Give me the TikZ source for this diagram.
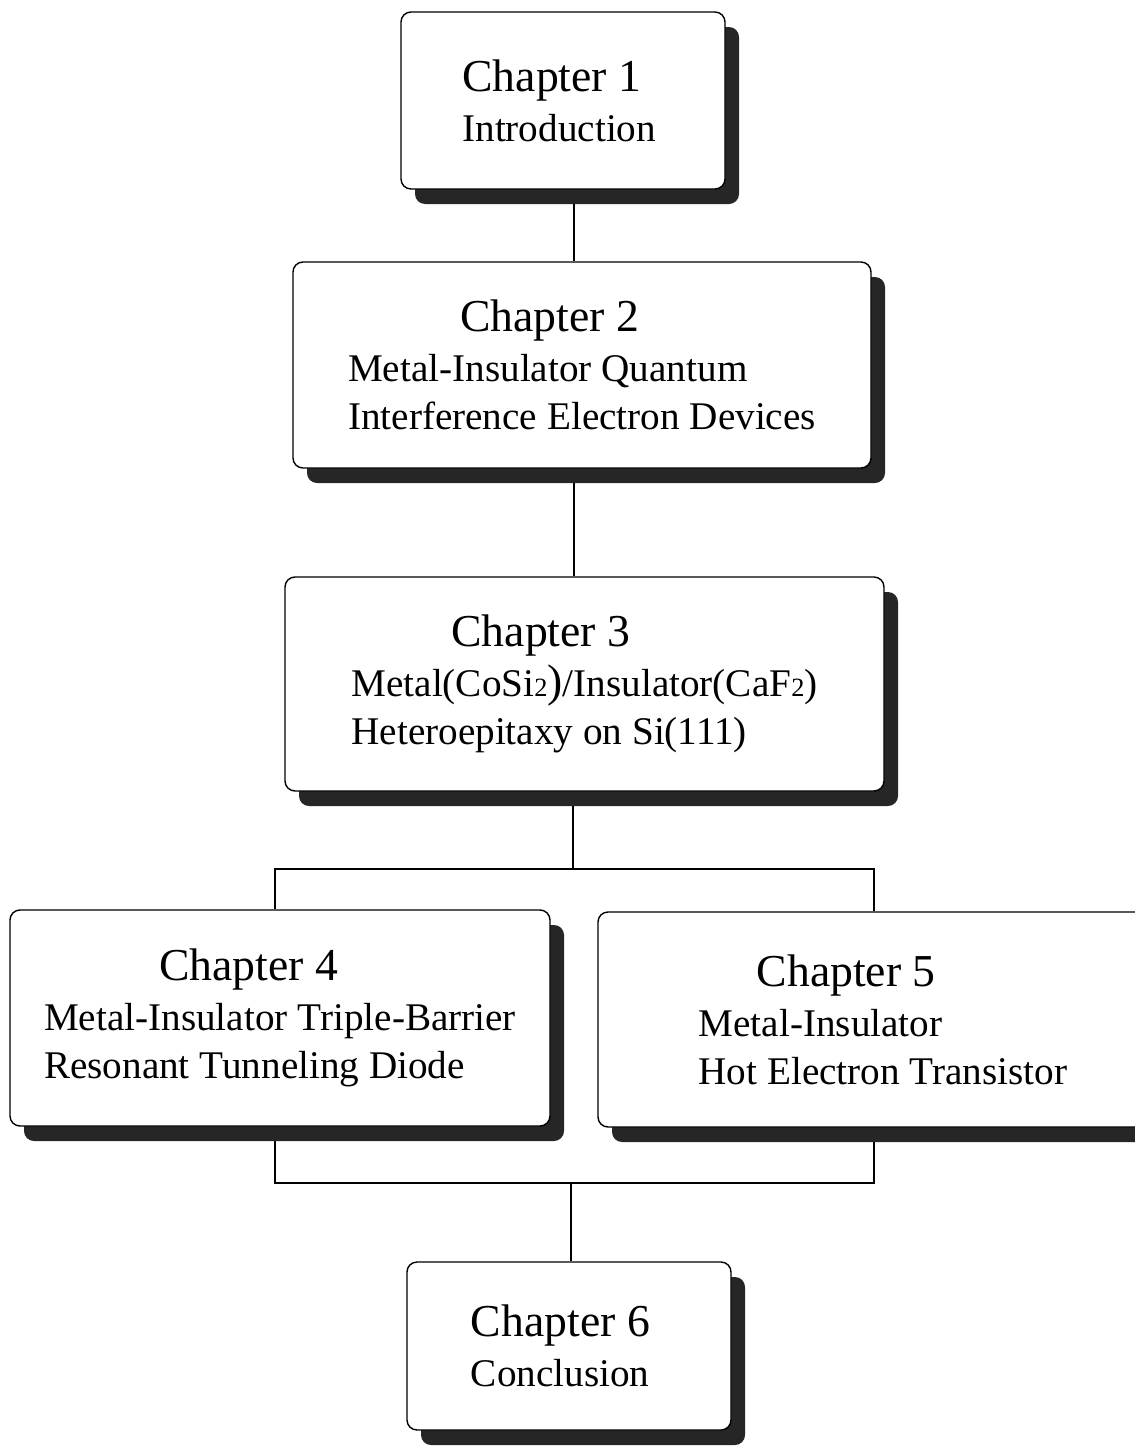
\documentclass[tikz,border=0pt]{standalone}
\usepackage{fontspec}
\setmainfont{Liberation Serif}
\usetikzlibrary{shadows,backgrounds}
\newcommand{\chhead}[1]{{\fontsize{26}{30}\selectfont #1}}
\newcommand{\smtwo}{{\fontsize{15}{15}\selectfont 2}}
\tikzset{
  chbox/.style={draw, line width=0.8pt, fill=white, rounded corners=0.2cm,
    align=left, inner sep=0pt, font=\fontsize{22.3}{27.3}\selectfont,
    drop shadow={shadow xshift=0.28cm, shadow yshift=-0.3cm, opacity=1, fill=black!85}},
  link/.style={line width=0.8pt}
}
\begin{document}
\begin{tikzpicture}
\clip (0,0) rectangle (22.7,-28.98);
\node[chbox, minimum width=6.48cm, minimum height=3.54cm] (ch1) at (11.26,-2.01)
  {\chhead{Chapter 1}\\[1pt]Introduction\hspace*{0.15cm}};
\node[chbox, minimum width=11.56cm, minimum height=4.12cm] (ch2) at (11.64,-7.3)
  {\hspace*{2.24cm}\chhead{Chapter 2}\\[1pt]Metal-Insulator Quantum\\Interference Electron Devices};
\node[chbox, minimum width=11.98cm, minimum height=4.28cm] (ch3) at (11.69,-13.68)
  {\hspace*{2cm}\chhead{Chapter 3}\\[1pt]Metal(CoSi\smtwo{\fontsize{26}{26}\selectfont)}/Insulator(CaF\smtwo)\\Heteroepitaxy on Si(111)};
\node[chbox, minimum width=10.8cm, minimum height=4.32cm] (ch4) at (5.6,-20.36)
  {\hspace*{2.3cm}\chhead{Chapter 4}\\[1pt]Metal-Insulator Triple-Barrier\\Resonant Tunneling Diode};
\node[chbox, minimum width=11.4cm, minimum height=4.3cm] (ch5) at (17.66,-20.39)
  {\hspace*{1.16cm}\chhead{Chapter 5}\\[1pt]Metal-Insulator\\Hot Electron Transistor};
\node[chbox, minimum width=6.48cm, minimum height=3.36cm] (ch6) at (11.38,-26.92)
  {\chhead{Chapter 6}\\[1pt]Conclusion\hspace*{0.35cm}};
% connectors, behind the boxes
\coordinate (spine) at (11.48,0);
\coordinate (split) at (11.46,-17.38);
\coordinate (join) at (11.42,-23.66);
\coordinate (lcol) at (5.5,0);
\coordinate (rcol) at (17.48,0);
\begin{scope}[on background layer]
\draw[link] (ch1.south -| spine) -- (ch2.north -| spine);
\draw[link] (ch2.south -| spine) -- (ch3.north -| spine);
\draw[link] (ch3.south -| split) -- (split);
\draw[link] (ch4.north -| lcol) |- (split) -| (ch5.north -| rcol);
\draw[link] (ch4.south -| lcol) |- (join) -| (ch5.south -| rcol);
\draw[link] (join) -- (ch6.north -| join);
\end{scope}
\end{tikzpicture}
\end{document}
